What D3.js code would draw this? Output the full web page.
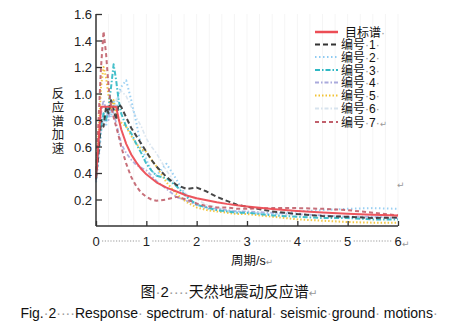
<!DOCTYPE html>
<html><head><meta charset="utf-8">
<script src="https://cdn.jsdelivr.net/npm/d3@7"></script>
<style>
html,body{margin:0;padding:0;background:#fff;}
svg{display:block;}
</style></head>
<body>
<svg id="c" width="454" height="330"></svg>
<script>
// ---------- data ----------
const periods = [0,0.05,0.1,0.15,0.2,0.25,0.3,0.35,0.4,0.45,0.5,0.6,0.7,0.8,0.9,1.0,1.1,1.2,1.4,1.6,1.8,2.0,2.2,2.4,2.6,2.8,3.0,3.5,4.0,4.5,5.0,5.5,6.0];
const target = [0.36,0.63,0.9,0.9,0.9,0.9,0.9,0.9,0.9,0.81,0.73,0.62,0.54,0.48,0.43,0.39,0.36,0.33,0.29,0.26,0.23,0.21,0.195,0.18,0.167,0.156,0.147,0.128,0.113,0.102,0.093,0.085,0.079];
const rec1 = [0.36,0.55,0.8,0.75,0.9,0.85,0.95,0.88,0.8,0.92,0.9,0.82,0.74,0.68,0.62,0.56,0.5,0.45,0.37,0.31,0.28,0.29,0.26,0.22,0.19,0.16,0.145,0.11,0.09,0.075,0.07,0.06,0.065];
const rec2 = [0.33,0.5,0.7,0.85,0.75,0.9,0.82,0.95,0.85,1.0,1.05,1.1,0.95,0.78,0.6,0.5,0.42,0.38,0.47,0.35,0.22,0.16,0.13,0.12,0.11,0.11,0.1,0.09,0.11,0.12,0.13,0.135,0.13];
const rec3 = [0.35,0.6,0.75,0.85,0.8,0.9,1.05,1.22,1.1,0.95,0.85,0.75,0.7,0.62,0.55,0.47,0.42,0.38,0.36,0.3,0.22,0.16,0.14,0.12,0.11,0.1,0.1,0.08,0.07,0.06,0.06,0.05,0.05];
const rec4 = [0.34,0.55,0.85,0.95,0.88,0.8,0.92,0.85,0.78,0.7,0.62,0.55,0.5,0.46,0.44,0.42,0.38,0.34,0.28,0.22,0.19,0.16,0.14,0.13,0.12,0.11,0.11,0.1,0.09,0.08,0.07,0.07,0.06];
const rec5 = [0.38,0.7,1.05,1.2,1.12,0.98,0.88,0.95,0.85,0.8,0.78,0.75,0.68,0.62,0.58,0.56,0.5,0.45,0.33,0.24,0.18,0.14,0.12,0.11,0.1,0.09,0.09,0.07,0.05,0.04,0.03,0.025,0.025];
const rec6 = [0.33,0.5,0.7,0.8,0.78,0.85,0.9,0.88,0.95,1.0,1.02,0.98,0.9,0.82,0.75,0.66,0.6,0.55,0.42,0.3,0.24,0.2,0.16,0.14,0.12,0.11,0.1,0.09,0.08,0.08,0.07,0.07,0.06];
const rec7 = [0.37,0.8,1.2,1.47,1.3,1.05,0.9,0.82,0.75,0.68,0.6,0.47,0.37,0.3,0.25,0.22,0.2,0.19,0.2,0.22,0.2,0.17,0.15,0.14,0.14,0.13,0.13,0.135,0.135,0.13,0.12,0.1,0.08];
const seriesNames = ["目标谱","编号·1","编号·2","编号·3","编号·4","编号·5","编号·6","编号·7"];
const seriesValues = [target,rec1,rec2,rec3,rec4,rec5,rec6,rec7];
const xTicks = [0,1,2,3,4,5,6];
const yTicks = [0.2,0.4,0.6,0.8,1.0,1.2,1.4,1.6];

// ---------- styles ----------
const styles = [
  {color:"#ec4d55", dash:null, w:2},
  {color:"#333333", dash:"5,3", w:2},
  {color:"#8fcbf2", dash:"1.5,2.5", w:2},
  {color:"#2fb8c4", dash:"5,2,1.5,2", w:2},
  {color:"#a9a9dc", dash:"4,2,1.5,2", w:1.8},
  {color:"#f2c232", dash:"1.5,2", w:2},
  {color:"#d7e3ee", dash:"4,2,1.5,2", w:1.6},
  {color:"#c1606c", dash:"4,3", w:2}
];

const svg = d3.select("#c");
const x = d3.scaleLinear().domain([0,6]).range([96,398]);
const y = d3.scaleLinear().domain([0,1.6]).range([226,14]);
const latin = "'Liberation Sans', Arial, sans-serif";
const cjk = "'Liberation Sans', 'Noto Sans CJK SC', sans-serif";

// faint vertical stripes of the scanned background
const stripes = d3.range(0.25,6.01,0.25);
svg.append("g").selectAll("line").data(stripes).join("line")
  .attr("x1",d=>x(d)).attr("x2",d=>x(d)).attr("y1",14).attr("y2",226)
  .attr("stroke","#f5f5f5").attr("stroke-width",1);

// curves (records first, target on top)
const line = d3.line().x((d,i)=>x(periods[i])).y(d=>y(d)).curve(d3.curveLinear);
const order = [6,4,2,5,3,1,7,0];
const gL = svg.append("g");
order.forEach(k=>{
  const s = styles[k];
  gL.append("path").datum(seriesValues[k])
    .attr("d",line).attr("fill","none")
    .attr("stroke",s.color).attr("stroke-width",s.w)
    .attr("stroke-dasharray",s.dash)
    .attr("stroke-linejoin","round")
    .attr("opacity",k===0?0.95:0.9);
});

// axes
const gx = svg.append("g").attr("transform","translate(0,226)")
  .call(d3.axisBottom(x).tickValues(xTicks).tickSize(-5).tickFormat(""));
const gy = svg.append("g").attr("transform","translate(96,0)")
  .call(d3.axisLeft(y).tickValues(yTicks).tickSize(-6).tickFormat(""));
[gx,gy].forEach(g=>{
  g.select(".domain").attr("stroke","#333").attr("stroke-width",1.5);
  g.selectAll(".tick line").attr("stroke","#333").attr("stroke-width",1.3);
});
gx.select(".domain").attr("d","M96,0H398");
gy.select(".domain").attr("d","M0,226V14");

// y tick labels
svg.append("g").selectAll("text").data(yTicks).join("text")
  .attr("x",92).attr("y",d=>y(d)+5)
  .attr("text-anchor","end")
  .attr("font-family",latin).attr("font-size",13).attr("fill","#222")
  .text(d=>d.toFixed(1));

// x tick labels with dotted leaders
svg.append("g").selectAll("line").data(xTicks.slice(0,-1)).join("line")
  .attr("x1",d=>x(d)+6).attr("x2",d=>x(d+1)-6)
  .attr("y1",241).attr("y2",241)
  .attr("stroke","#9a9a9a").attr("stroke-width",1.2).attr("stroke-dasharray","1.2,1.6");
svg.append("g").selectAll("text").data(xTicks).join("text")
  .attr("x",d=>x(d)).attr("y",246)
  .attr("text-anchor","middle")
  .attr("font-family",latin).attr("font-size",13).attr("fill","#222")
  .text(d=>d);

// return marks
function retMark(px,py){
  svg.append("text").attr("x",px).attr("y",py)
    .attr("font-family","'DejaVu Sans', sans-serif").attr("font-size",9).attr("fill","#999").text("↵");
}
retMark(402,247);
retMark(397,188);

// helper: text runs with grey word-space markers (narrow latin dots)
function addRuns(t, str, fam){
  const parts = str.match(/(·+|↵|[^·↵]+)/g);
  parts.forEach(p=>{
    const ts = t.append("tspan").text(p);
    if (p[0]==="·") ts.attr("fill","#9a9a9a").attr("font-family",latin);
    else if (p==="↵") ts.attr("fill","#999").attr("font-family","'DejaVu Sans', sans-serif").attr("font-size","0.7em");
    else ts.attr("fill","#111").attr("font-family",fam);
  });
}

// axis titles
svg.append("text")
  .attr("x",58).attr("y",87)
  .attr("font-family","'Noto Sans CJK SC', sans-serif").attr("font-size",12.5).attr("fill","#222")
  .style("writing-mode","vertical-rl").style("glyph-orientation-vertical","0")
  .attr("letter-spacing",1.3)
  .text("反应谱加速");
{
  const t = svg.append("text").attr("x",231).attr("y",265).attr("font-size",12.5);
  addRuns(t,"周期/s↵",cjk);
}

// legend (one text block, one line per series)
const lg = svg.append("g");
const rowY = [32,44.5,57,70,82.5,95.5,108.5,122];
seriesNames.forEach((n,k)=>{
  const s = styles[k];
  lg.append("line").attr("x1",315).attr("x2",338).attr("y1",rowY[k]).attr("y2",rowY[k])
    .attr("stroke",s.color).attr("stroke-width",k===0?2.5:2)
    .attr("stroke-dasharray",s.dash);
});
const lt = lg.append("text").attr("font-size",12);
seriesNames.forEach((n,k)=>{
  const row = lt.append("tspan").attr("x",k===0?345:341).attr("y",rowY[k]+4.5);
  addRuns(row, n+"·"+(k===7?"↵":""), cjk);
});

// captions
{
  const t = svg.append("text").attr("x",229).attr("y",297).attr("font-size",15).attr("text-anchor","middle");
  addRuns(t,"图·2····天然地震动反应谱↵",cjk);
  const e = svg.append("text").attr("x",229).attr("y",318).attr("font-size",14).attr("text-anchor","middle");
  addRuns(e,"Fig.·2····Response· spectrum· of·natural· seismic·ground· motions·",latin);
}
</script>
</body></html>
